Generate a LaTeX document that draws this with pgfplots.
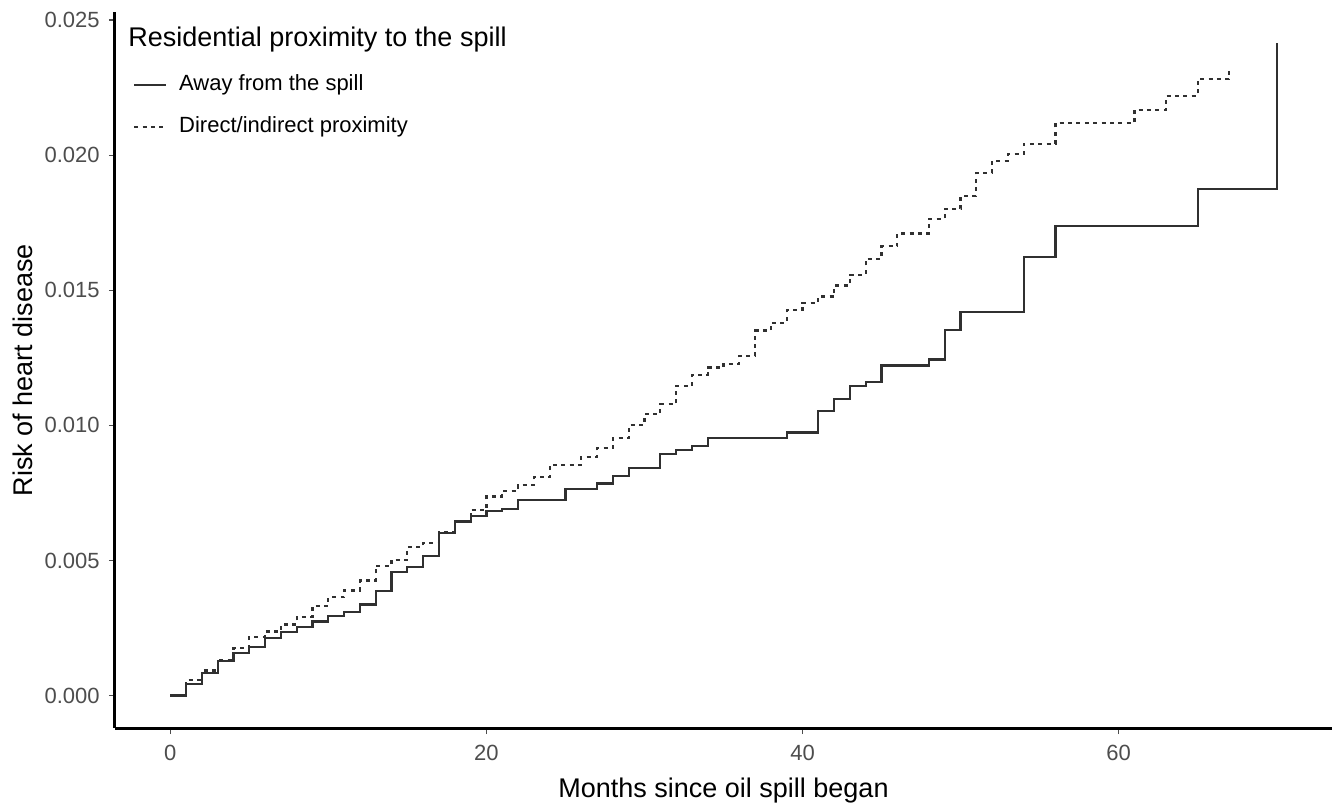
\documentclass[border=0pt]{standalone}
\usepackage{fontspec}
\setmainfont{Liberation Sans}
\usepackage{pgfplots}
\pgfplotsset{compat=1.18}
\definecolor{tickgrey}{HTML}{4D4D4D}
\definecolor{linegrey}{HTML}{303030}
\begin{document}
\begin{tikzpicture}
\begin{axis}[
  scale only axis, width=608.5pt, height=358pt,
  xmin=-3.5, xmax=73.5, ymin=-0.0012, ymax=0.0253,
  axis x line=bottom, axis y line=left,
  axis line style={line width=1.5pt, black, -},
  xtick={0,20,40,60}, ytick={0,0.005,0.01,0.015,0.02,0.025},
  scaled y ticks=false,
  yticklabel={\pgfmathprintnumber[fixed,fixed zerofill,precision=3]{\tick}},
  /pgf/number format/assume math mode=true,
  tick align=outside, major tick length=3pt,
  tick style={line width=0.6pt, color=tickgrey},
  ticklabel style={font=\fontsize{11}{13}\selectfont, text=tickgrey, inner sep=0pt},
  xticklabel style={anchor=north, yshift=-5.5pt},
  yticklabel style={anchor=east, xshift=-4.5pt},
  xlabel={Months since oil spill began},
  ylabel={Risk of heart disease},
  xlabel style={at={(axis description cs:0.5,0)}, anchor=base, yshift=-34.5pt, font=\fontsize{13.5}{16}\selectfont, inner sep=0pt},
  ylabel style={at={(axis description cs:-0.0756,0.5)}, anchor=center, font=\fontsize{13.5}{16}\selectfont, inner sep=0pt},
  legend style={at={(axis description cs:0.0148,0.9123)}, anchor=north west, draw=none, fill=none,
    inner sep=0pt, outer sep=0pt, row sep=10.5pt, font=\fontsize{11}{13}\selectfont,
    nodes={inner sep=0pt, text height=8pt, text depth=2.5pt},
    /tikz/every odd column/.append style={column sep=6pt}},
  legend cell align=left,
  clip=false,
]
\addplot[const plot, color=linegrey, line width=1.1pt,
  legend image code/.code={\draw[color=linegrey, line width=1.1pt] (0pt,0pt) -- (16pt,0pt);}]
coordinates {
(0,0) (1,0.00042) (2,0.00084) (3,0.00128) (4,0.00159) (5,0.00180) (6,0.00214)
(7,0.00235) (8,0.00254) (9,0.00274) (10,0.00294) (11,0.00309) (12,0.00337)
(13,0.00387) (14,0.00457) (15,0.00475) (16,0.00518) (17,0.00602) (18,0.00644)
(19,0.00664) (20,0.00682) (21,0.00691) (22,0.00725) (25,0.00764) (27,0.00785)
(28,0.00814) (29,0.00842) (31,0.00894) (32,0.00910) (33,0.00924) (34,0.00952)
(39,0.00974) (41,0.01054) (42,0.01097) (43,0.01146) (44,0.01161) (45,0.01222)
(48,0.01244) (49,0.01353) (50,0.01420) (54,0.01622) (56,0.01737) (65,0.01876)
(70,0.02416)
};
\addlegendentry{Away from the spill}
\addplot[const plot, color=linegrey, line width=1.1pt, dash pattern=on 2pt off 2.2pt,
  legend image code/.code={\draw[color=linegrey, line width=1.1pt, dash pattern=on 2pt off 2.2pt] (0pt,0pt) -- (16pt,0pt);}]
coordinates {
(0,0) (1,0.00057) (2,0.00093) (3,0.00130) (4,0.00176) (5,0.00217) (6,0.00237)
(7,0.00263) (8,0.00290) (9,0.00333) (10,0.00364) (11,0.00389) (12,0.00426)
(13,0.00481) (14,0.00503) (15,0.00551) (16,0.00565) (17,0.00604) (18,0.00645)
(19,0.00688) (20,0.00737) (21,0.00758) (22,0.00779) (23,0.00808) (24,0.00854)
(26,0.00884) (27,0.00915) (28,0.00952) (29,0.01001) (30,0.01041) (31,0.01078)
(32,0.01146) (33,0.01187) (34,0.01214) (35,0.01228) (36,0.01257) (37,0.01351)
(38,0.01380) (39,0.01426) (40,0.01454) (41,0.01477) (42,0.01518) (43,0.01558)
(44,0.01616) (45,0.01663) (46,0.01710) (48,0.01765) (49,0.01801) (50,0.01850)
(51,0.01934) (52,0.01980) (53,0.02005) (54,0.02042) (56,0.02118) (61,0.02168)
(63,0.02220) (65,0.02282) (67,0.02328)
};
\addlegendentry{Direct/indirect proximity}
\node[anchor=base west, inner sep=0pt, font=\fontsize{13.5}{16}\selectfont]
  at (axis description cs:0.0107,0.9515) {Residential proximity to the spill};
\end{axis}
\path (current axis.south west) ++(-57.5pt,-40pt) coordinate (bl);
\path (current axis.north east) ++(4.5pt,6pt) coordinate (tr);
\path (bl) rectangle (tr);
\end{tikzpicture}
\end{document}
